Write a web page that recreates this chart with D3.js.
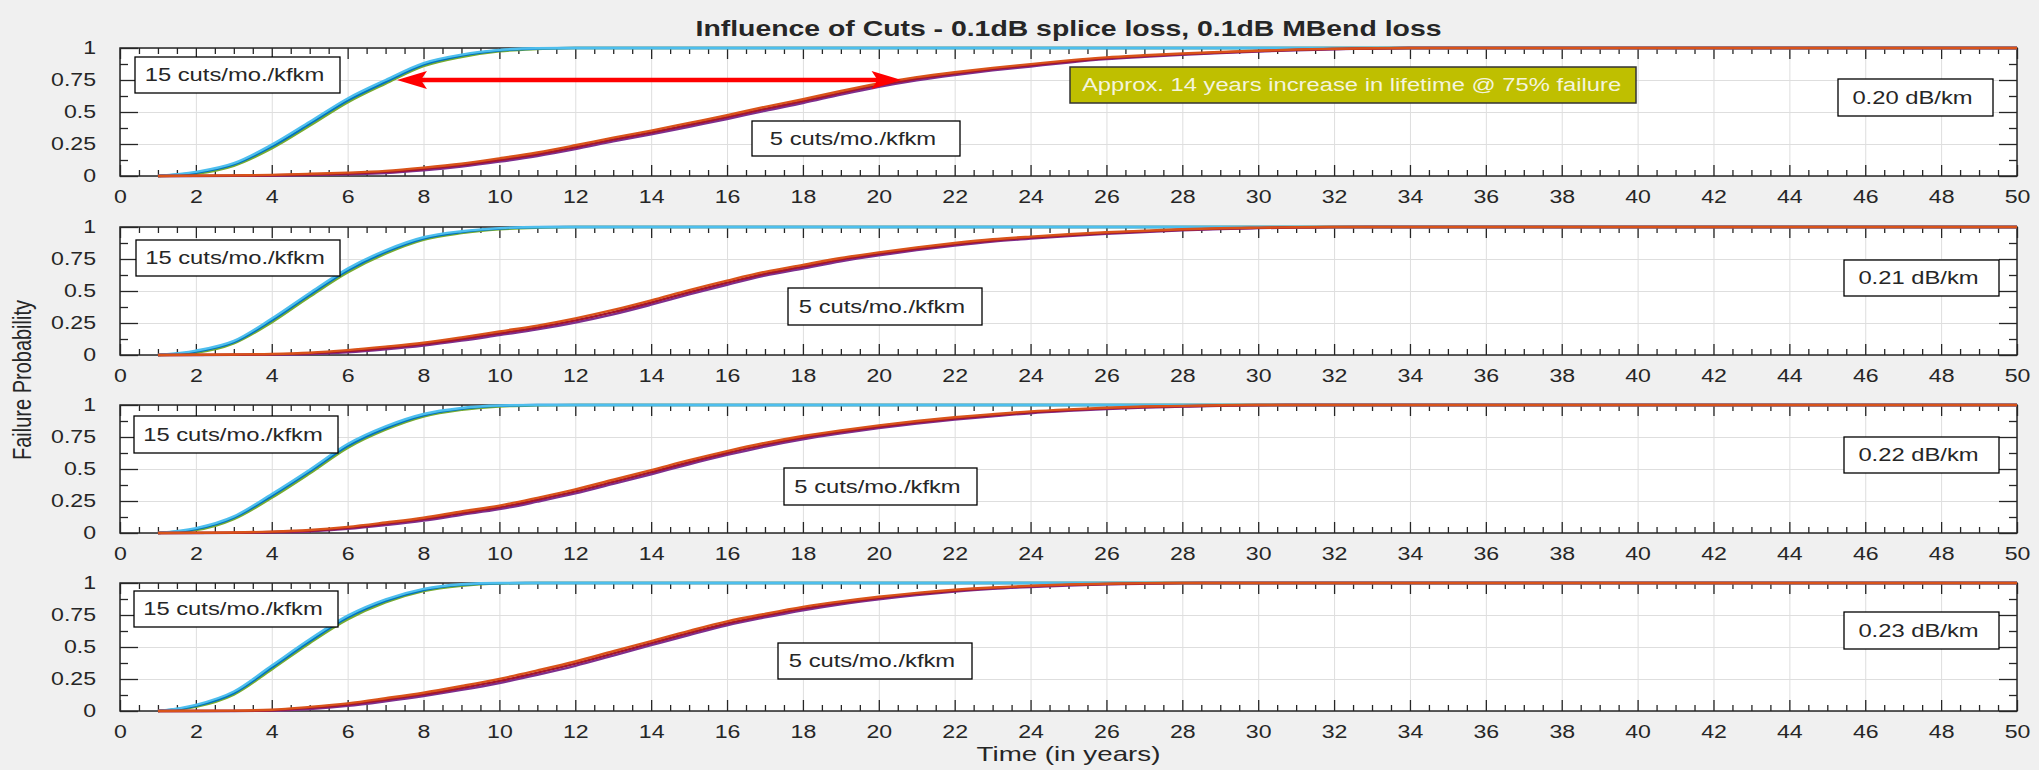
<!DOCTYPE html>
<html>
<head>
<meta charset="utf-8">
<script src="https://cdnjs.cloudflare.com/ajax/libs/d3/7.8.5/d3.min.js"></script>
<style>
  body { margin: 0; background: #f0f0f0; }
  text { font-family: "Liberation Sans", Arial, Helvetica, sans-serif; fill: #262626; }
</style>
</head>
<body>
<svg id="chart" width="2039" height="770"></svg>
<script>
// panel labels (attenuation)
const panelNames = ["0.20 dB/km", "0.21 dB/km", "0.22 dB/km", "0.23 dB/km"];

// years sampled for the 15 cuts/mo./kfkm runs
const yearsFast = [1, 2, 3, 4, 5, 6, 7, 8, 9, 10, 11, 12, 50];
// years sampled for the 5 cuts/mo./kfkm runs
const yearsSlow = [1, 3, 4, 5, 6, 7, 8, 9, 10, 11, 12, 13, 14, 15, 16, 17, 18, 19, 20, 21, 22, 23, 24, 25, 26, 27, 28, 29, 30, 31, 32, 34, 50];

// 0.20 dB/km
const fast020a = [0, 0.018, 0.080, 0.215, 0.392, 0.575, 0.722, 0.858, 0.930, 0.974, 0.992, 1, 1];
const fast020b = [0, 0.025, 0.090, 0.230, 0.408, 0.590, 0.735, 0.870, 0.940, 0.980, 0.995, 1, 1];
const fast020c = [0, 0.032, 0.100, 0.245, 0.424, 0.606, 0.750, 0.882, 0.948, 0.985, 0.998, 1, 1];
const slow020a = [0, 0.001, 0.003, 0.007, 0.014, 0.024, 0.045, 0.074, 0.112, 0.156, 0.210, 0.270, 0.325, 0.385, 0.445, 0.510, 0.570, 0.636, 0.697, 0.748, 0.789, 0.825, 0.856, 0.887, 0.913, 0.931, 0.947, 0.961, 0.973, 0.982, 0.990, 1, 1];
const slow020b = [0, 0.003, 0.006, 0.012, 0.020, 0.032, 0.055, 0.085, 0.125, 0.170, 0.225, 0.285, 0.340, 0.400, 0.460, 0.525, 0.585, 0.650, 0.710, 0.760, 0.800, 0.835, 0.865, 0.895, 0.920, 0.937, 0.952, 0.965, 0.976, 0.985, 0.992, 1, 1];
const slow020c = [0, 0.005, 0.009, 0.017, 0.026, 0.040, 0.065, 0.096, 0.138, 0.184, 0.240, 0.300, 0.355, 0.415, 0.475, 0.540, 0.600, 0.664, 0.723, 0.772, 0.811, 0.845, 0.874, 0.903, 0.927, 0.943, 0.957, 0.969, 0.979, 0.988, 0.994, 1, 1];

// 0.21 dB/km
const fast021a = [0, 0.018, 0.090, 0.255, 0.455, 0.645, 0.792, 0.900, 0.952, 0.982, 0.995, 1, 1];
const fast021b = [0, 0.026, 0.100, 0.270, 0.470, 0.660, 0.805, 0.910, 0.960, 0.987, 0.998, 1, 1];
const fast021c = [0, 0.034, 0.110, 0.285, 0.485, 0.675, 0.818, 0.920, 0.967, 0.991, 1, 1, 1];
const slow021a = [0, 0.001, 0.003, 0.008, 0.022, 0.045, 0.074, 0.112, 0.156, 0.200, 0.254, 0.318, 0.393, 0.473, 0.549, 0.620, 0.676, 0.732, 0.778, 0.819, 0.855, 0.886, 0.909, 0.929, 0.947, 0.961, 0.974, 0.984, 0.991, 0.996, 0.999, 1, 1];
const slow021b = [0, 0.002, 0.005, 0.013, 0.030, 0.055, 0.085, 0.125, 0.170, 0.215, 0.270, 0.335, 0.410, 0.490, 0.565, 0.635, 0.690, 0.745, 0.790, 0.830, 0.865, 0.895, 0.917, 0.936, 0.953, 0.966, 0.978, 0.987, 0.993, 0.997, 1, 1, 1];
const slow021c = [0, 0.004, 0.008, 0.018, 0.038, 0.065, 0.096, 0.138, 0.184, 0.230, 0.286, 0.352, 0.427, 0.507, 0.581, 0.650, 0.704, 0.758, 0.802, 0.841, 0.875, 0.904, 0.925, 0.943, 0.959, 0.971, 0.982, 0.990, 0.995, 0.998, 1, 1, 1];

// 0.22 dB/km
const fast022a = [0, 0.022, 0.108, 0.275, 0.465, 0.665, 0.807, 0.910, 0.962, 0.988, 0.997, 1, 1];
const fast022b = [0, 0.030, 0.120, 0.290, 0.480, 0.680, 0.820, 0.920, 0.970, 0.993, 1, 1, 1];
const fast022c = [0, 0.038, 0.130, 0.305, 0.495, 0.695, 0.833, 0.930, 0.977, 0.996, 1, 1, 1];
const slow022a = [0, 0.001, 0.005, 0.012, 0.032, 0.062, 0.097, 0.142, 0.186, 0.245, 0.309, 0.384, 0.459, 0.537, 0.610, 0.676, 0.732, 0.778, 0.819, 0.855, 0.886, 0.912, 0.936, 0.954, 0.969, 0.980, 0.987, 0.994, 0.998, 1, 1, 1, 1];
const slow022b = [0, 0.002, 0.008, 0.018, 0.040, 0.072, 0.108, 0.155, 0.200, 0.260, 0.325, 0.400, 0.475, 0.553, 0.625, 0.690, 0.745, 0.790, 0.830, 0.865, 0.895, 0.920, 0.943, 0.960, 0.974, 0.984, 0.990, 0.996, 1, 1, 1, 1, 1];
const slow022c = [0, 0.004, 0.011, 0.024, 0.048, 0.082, 0.119, 0.168, 0.214, 0.275, 0.341, 0.416, 0.491, 0.569, 0.640, 0.704, 0.758, 0.802, 0.841, 0.875, 0.904, 0.928, 0.950, 0.966, 0.979, 0.988, 0.993, 0.998, 1, 1, 1, 1, 1];

// 0.23 dB/km
const fast023a = [0, 0.032, 0.128, 0.325, 0.530, 0.715, 0.848, 0.936, 0.978, 0.996, 1, 1, 1];
const fast023b = [0, 0.040, 0.140, 0.340, 0.545, 0.730, 0.860, 0.945, 0.985, 0.998, 1, 1, 1];
const fast023c = [0, 0.048, 0.152, 0.355, 0.560, 0.745, 0.872, 0.954, 0.990, 1, 1, 1, 1];
const slow023a = [0, 0.000, 0.003, 0.016, 0.040, 0.076, 0.117, 0.165, 0.219, 0.283, 0.353, 0.433, 0.514, 0.594, 0.670, 0.731, 0.787, 0.834, 0.873, 0.906, 0.933, 0.954, 0.969, 0.981, 0.989, 0.995, 0.999, 1, 1, 1, 1, 1, 1];
const slow023b = [0, 0.001, 0.006, 0.024, 0.050, 0.088, 0.130, 0.180, 0.235, 0.300, 0.370, 0.450, 0.530, 0.610, 0.685, 0.745, 0.800, 0.845, 0.883, 0.915, 0.940, 0.960, 0.974, 0.985, 0.992, 0.997, 1, 1, 1, 1, 1, 1, 1];
const slow023c = [0, 0.003, 0.010, 0.032, 0.060, 0.100, 0.143, 0.195, 0.251, 0.317, 0.387, 0.467, 0.546, 0.626, 0.700, 0.759, 0.813, 0.856, 0.893, 0.923, 0.947, 0.965, 0.978, 0.988, 0.994, 0.999, 1, 1, 1, 1, 1, 1, 1];

const fastRuns = [[fast020a, fast020b, fast020c], [fast021a, fast021b, fast021c], [fast022a, fast022b, fast022c], [fast023a, fast023b, fast023c]];
const slowRuns = [[slow020a, slow020b, slow020c], [slow021a, slow021b, slow021c], [slow022a, slow022b, slow022c], [slow023a, slow023b, slow023c]];

const fastColors = ["#77AC30", "#0072BD", "#4DBEEE"];
const slowColors = ["#7E2F8E", "#A2142F", "#D95319"];

// tick values
const xMajor = d3.range(0, 51, 2);
const xMinor = d3.range(0, 50.01, 0.5).filter(d => d % 2 !== 0);
const yMajor = [0, 0.25, 0.5, 0.75, 1];
const yMinor = [0.125, 0.375, 0.625, 0.875];

// arrow annotation (panel 1, years / probability)
const arrowFrom = 7.3, arrowTo = 20.6, arrowLevel = 0.75;
const noteText = "Approx. 14 years increase in lifetime @ 75% failure";

// layout
const left = 120, right = 2017;
const panelTop = [48, 227, 405, 583];
const panelH = 128;
const SX = 1.32; // the original picture is stretched sideways
const font = "'Liberation Sans', Arial, Helvetica, sans-serif";

// label boxes, relative to each panel top
const fastBox = [{x: 135, y: 9, w: 205, h: 36}, {x: 136, y: 13, w: 204, h: 36}, {x: 134, y: 11, w: 204, h: 37}, {x: 134, y: 8, w: 204, h: 36}];
const slowBox = [{x: 752, y: 73, w: 208, h: 35}, {x: 788, y: 61, w: 194, h: 37}, {x: 784, y: 63, w: 193, h: 37}, {x: 778, y: 60, w: 194, h: 36}];
const nameBox = [{x: 1838, y: 31, w: 155, h: 37}, {x: 1844, y: 33, w: 155, h: 36}, {x: 1844, y: 32, w: 155, h: 36}, {x: 1844, y: 29, w: 155, h: 37}];

const svg = d3.select("#chart");
svg.append("rect").attr("width", 2039).attr("height", 770).attr("fill", "#f0f0f0");

const x = d3.scaleLinear().domain([0, 50]).range([left, right]);

panelTop.forEach((top, i) => {
    const y = d3.scaleLinear().domain([0, 1]).range([top + panelH, top]);
    const g = svg.append("g");

    g.append("rect").attr("x", left).attr("y", top).attr("width", right - left).attr("height", panelH).attr("fill", "#fff");

    // grid
    g.append("g").attr("transform", "translate(0," + (top + panelH) + ")")
        .call(d3.axisBottom(x).tickValues(xMajor).tickSize(-panelH).tickFormat(""))
        .call(a => a.select(".domain").remove())
        .selectAll("line").attr("stroke", "#dedede");
    g.append("g").attr("transform", "translate(" + left + ",0)")
        .call(d3.axisLeft(y).tickValues(yMajor).tickSize(-(right - left)).tickFormat(""))
        .call(a => a.select(".domain").remove())
        .selectAll("line").attr("stroke", "#dedede");

    // frame + ticks
    g.append("rect").attr("x", left).attr("y", top).attr("width", right - left).attr("height", panelH)
        .attr("fill", "none").attr("stroke", "#262626").attr("stroke-width", 1.5);
    const tickAxes = [
        [d3.axisBottom(x), "translate(0," + (top + panelH) + ")", xMajor, xMinor, 11, 6],
        [d3.axisTop(x), "translate(0," + top + ")", xMajor, xMinor, 11, 6],
        [d3.axisLeft(y), "translate(" + left + ",0)", yMajor, yMinor, 18, 8],
        [d3.axisRight(y), "translate(" + right + ",0)", yMajor, yMinor, 18, 8]
    ];
    tickAxes.forEach(([ax, tr, major, minor, big, small]) => {
        g.append("g").attr("transform", tr)
            .call(ax.tickValues(major).tickSize(-big).tickFormat(""))
            .call(a => a.select(".domain").remove())
            .selectAll("line").attr("stroke", "#262626").attr("stroke-width", 1.3);
        g.append("g").attr("transform", tr)
            .call(ax.tickValues(minor).tickSize(-small).tickFormat(""))
            .call(a => a.select(".domain").remove())
            .selectAll("line").attr("stroke", "#262626").attr("stroke-width", 1.3);
    });

    // tick labels
    g.append("g").attr("transform", "translate(0," + (top + panelH) + ")")
        .call(d3.axisBottom(x).tickValues(xMajor).tickSize(0).tickPadding(15).tickFormat(d => String(d)))
        .call(a => a.select(".domain").remove())
        .selectAll("text").attr("class", "sx").attr("font-size", 17.5).attr("font-family", font).attr("fill", "#262626");
    g.append("g").attr("transform", "translate(" + left + ",0)")
        .call(d3.axisLeft(y).tickValues(yMajor).tickSize(0).tickPadding(24).tickFormat(d => String(d)))
        .call(a => a.select(".domain").remove())
        .selectAll("text").attr("class", "sx").attr("font-size", 17.5).attr("font-family", font).attr("fill", "#262626");

    // curves
    const line = yrs => d3.line().x((d, k) => x(yrs[k])).y(d => y(d)).curve(d3.curveMonotoneX);
    fastRuns[i].forEach((run, k) => {
        g.append("path").attr("d", line(yearsFast)(run)).attr("fill", "none")
            .attr("stroke", fastColors[k]).attr("stroke-width", 2.4);
    });
    slowRuns[i].forEach((run, k) => {
        g.append("path").attr("d", line(yearsSlow)(run)).attr("fill", "none")
            .attr("stroke", slowColors[k]).attr("stroke-width", 2.4);
    });

    // label boxes
    const boxes = [[fastBox[i], "15 cuts/mo./kfkm"], [slowBox[i], "5 cuts/mo./kfkm"], [nameBox[i], panelNames[i]]];
    boxes.forEach(([b, label]) => {
        g.append("rect").attr("x", b.x).attr("y", top + b.y).attr("width", b.w).attr("height", b.h)
            .attr("fill", "#fff").attr("stroke", "#000").attr("stroke-width", 1.3);
        g.append("text").attr("class", "sx").attr("x", b.x + b.w / 2 - 3).attr("y", top + b.y + b.h / 2)
            .attr("dy", "0.35em").attr("text-anchor", "middle").attr("font-size", 18).attr("fill", "#000")
            .text(label);
    });

    if (i === 0) {
        // double arrow
        const ay = y(arrowLevel), x1 = x(arrowFrom), x2 = x(arrowTo);
        g.append("line").attr("x1", x1 + 20).attr("x2", x2 - 20).attr("y1", ay).attr("y2", ay)
            .attr("stroke", "#ff0000").attr("stroke-width", 4.5);
        g.append("path").attr("d", `M${x1},${ay} L${x1 + 30},${ay - 9} L${x1 + 24},${ay} L${x1 + 30},${ay + 9} Z`).attr("fill", "#ff0000");
        g.append("path").attr("d", `M${x2},${ay} L${x2 - 30},${ay - 9} L${x2 - 24},${ay} L${x2 - 30},${ay + 9} Z`).attr("fill", "#ff0000");

        g.append("rect").attr("x", 1070).attr("y", top + 19).attr("width", 566).attr("height", 36)
            .attr("fill", "#bfbf00").attr("stroke", "#333").attr("stroke-width", 1.5);
        g.append("text").attr("class", "sx").attr("x", 1082).attr("y", top + 37).attr("dy", "0.35em")
            .attr("font-size", 18).style("fill", "#f4f4dc").text(noteText);
    }
});

// titles
svg.append("text").attr("class", "sx").attr("x", (left + right) / 2).attr("y", 36)
    .attr("text-anchor", "middle").attr("font-size", 21.5).attr("font-weight", "bold").attr("fill", "#000")
    .text("Influence of Cuts - 0.1dB splice loss, 0.1dB MBend loss");
svg.append("text").attr("class", "sx").attr("x", (left + right) / 2).attr("y", 761)
    .attr("text-anchor", "middle").attr("font-size", 21).text("Time (in years)");
svg.append("text").attr("transform", "translate(31,380) scale(" + SX + ",1) rotate(-90)")
    .attr("text-anchor", "middle").attr("font-size", 20).text("Failure Probability");

// widen text like the stretched original
svg.selectAll("text.sx").each(function () {
    const w = this.getComputedTextLength();
    d3.select(this).attr("textLength", w * SX).attr("lengthAdjust", "spacingAndGlyphs");
});
</script>
</body>
</html>
